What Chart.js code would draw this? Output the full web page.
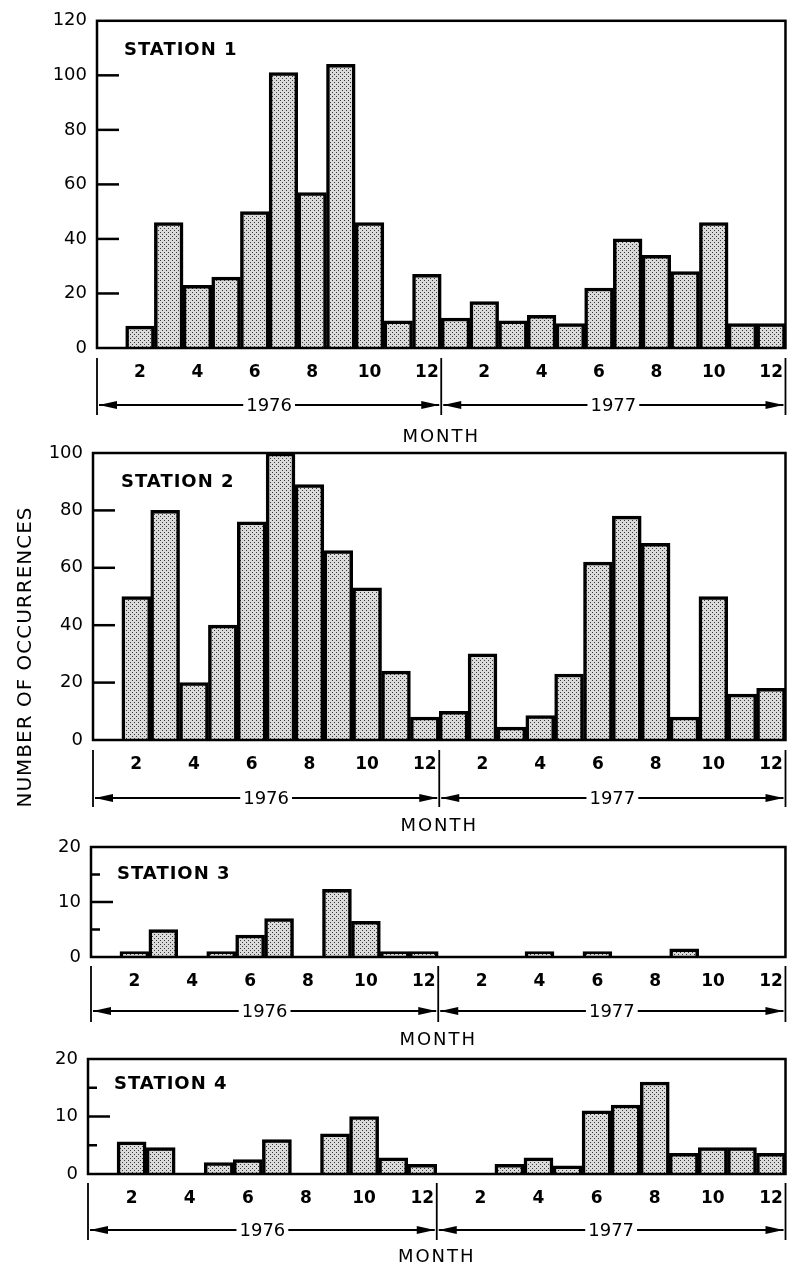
<!DOCTYPE html>
<html>
<head>
<meta charset="utf-8">
<script src="https://cdn.jsdelivr.net/npm/chart.js@4.4.1/dist/chart.umd.min.js"></script>
<style>
  body { margin: 0; background: #fff; }
  #wrap { position: relative; width: 797px; height: 1277px; }
  canvas { position: absolute; left: 0; top: 0; }
</style>
</head>
<body>
<div id="wrap">
  <canvas id="c1" width="797" height="1277"></canvas>
  <canvas id="c2" width="797" height="1277"></canvas>
  <canvas id="c3" width="797" height="1277"></canvas>
  <canvas id="c4" width="797" height="1277"></canvas>
</div>
<script>
// month numbers, Jan 1976 .. Dec 1977
var months = ['1','2','3','4','5','6','7','8','9','10','11','12',
              '1','2','3','4','5','6','7','8','9','10','11','12'];
var years = ['1976', '1977'];

// number of occurrences
var station1 = [0, 8, 46, 23, 26, 50, 101, 57, 104, 46, 10, 27,
                11, 17, 10, 12, 9, 22, 40, 34, 28, 46, 9, 9];
var station2 = [0, 50, 80, 20, 40, 76, 100, 89, 66, 53, 24, 8,
                10, 30, 4.5, 8.5, 23, 62, 78, 68.5, 8, 50, 16, 18];
var station3 = [0, 1, 5, 0, 1, 4, 7, 0, 12.3, 6.5, 1, 1,
                0, 0, 0, 1, 0, 1, 0, 0, 1.5, 0, 0, 0];
var station4 = [0, 5.6, 4.6, 0, 2, 2.5, 6, 0, 7, 10, 2.8, 1.7,
                0, 0, 1.7, 2.8, 1.4, 11, 12, 16, 3.6, 4.6, 4.6, 3.6];

var stationNames = ['STATION 1', 'STATION 2', 'STATION 3', 'STATION 4'];
var yMax = [120, 100, 20, 20];
var yStep = [20, 20, 10, 10];
var minorTicks = [[], [], [5, 15], [5, 15]];

var FONT = 'DejaVu Sans';

// stipple fill like the printed bars
function makeStipple() {
  var t = document.createElement('canvas');
  t.width = 4; t.height = 4;
  var g = t.getContext('2d');
  g.fillStyle = '#dadada';
  g.fillRect(0, 0, 4, 4);
  g.fillStyle = '#3a3a3a';
  g.fillRect(0, 0, 1, 1);
  g.fillRect(2, 2, 1, 1);
  return document.getElementById('c1').getContext('2d').createPattern(t, 'repeat');
}
var stipple = makeStipple();

function arrowHead(ctx, x, y, dir) {
  ctx.beginPath();
  ctx.moveTo(x, y);
  ctx.lineTo(x - dir * 18, y - 4);
  ctx.lineTo(x - dir * 18, y + 4);
  ctx.closePath();
  ctx.fill();
}

var framePlugin = {
  id: 'frame',
  afterDatasetsDraw: function(chart, args, opts) {
    var ctx = chart.ctx, a = chart.chartArea;
    var yS = chart.scales.y, xS = chart.scales.x;
    ctx.save();
    ctx.strokeStyle = '#000';
    ctx.fillStyle = '#000';
    ctx.lineWidth = 2.5;
    ctx.strokeRect(a.left, a.top, a.right - a.left, a.bottom - a.top);

    // inside tick marks
    ctx.lineWidth = 2.5;
    yS.ticks.forEach(function(t) {
      if (t.value <= yS.min || t.value >= yS.max) return;
      var py = yS.getPixelForValue(t.value);
      ctx.beginPath(); ctx.moveTo(a.left, py); ctx.lineTo(a.left + 22, py); ctx.stroke();
    });
    opts.minor.forEach(function(v) {
      var py = yS.getPixelForValue(v);
      ctx.beginPath(); ctx.moveTo(a.left, py); ctx.lineTo(a.left + 9, py); ctx.stroke();
    });

    // station name
    ctx.font = 'bold 18px "' + FONT + '"';
    ctx.letterSpacing = '1px';
    ctx.textBaseline = 'middle';
    ctx.textAlign = 'left';
    ctx.fillText(opts.station, opts.labelX, a.top + opts.labelDy);

    // year brackets
    var half = (xS.getPixelForValue(11) + xS.getPixelForValue(12)) / 2;
    var b0 = a.bottom + opts.brTop, b1 = a.bottom + opts.brBot, ay = a.bottom + opts.arrowDy;
    ctx.lineWidth = 1.8;
    [a.left, half, a.right].forEach(function(x) {
      ctx.beginPath(); ctx.moveTo(x, b0); ctx.lineTo(x, b1); ctx.stroke();
    });
    ctx.font = '18px "' + FONT + '"';
    ctx.letterSpacing = '0px';
    ctx.textAlign = 'center';
    [[a.left, half, years[0]], [half, a.right, years[1]]].forEach(function(s) {
      var l = s[0] + 2, r = s[1] - 2, c = (s[0] + s[1]) / 2;
      var w = ctx.measureText(s[2]).width / 2 + 3;
      ctx.lineWidth = 1.8;
      ctx.beginPath();
      ctx.moveTo(l, ay); ctx.lineTo(c - w, ay);
      ctx.moveTo(c + w, ay); ctx.lineTo(r, ay);
      ctx.stroke();
      arrowHead(ctx, l, ay, -1);
      arrowHead(ctx, r, ay, 1);
      ctx.fillText(s[2], c, ay + 1);
    });

    ctx.letterSpacing = '2px';
    ctx.fillText('MONTH', half, a.bottom + opts.monthDy);

    if (opts.yTitle) {
      ctx.save();
      ctx.translate(26, 657);
      ctx.rotate(-Math.PI / 2);
      ctx.font = '20px "' + FONT + '"';
      ctx.letterSpacing = '1px';
      ctx.fillText('NUMBER OF OCCURRENCES', 0, 0);
      ctx.restore();
    }
    ctx.restore();
  }
};

var boxes = [[97, 795, 13, 348], [93, 792, 453, 740], [91, 788, 847, 957], [88, 788, 1059, 1174]];
var extras = [
  { labelX: 124, labelDy: 30, brTop: 10, brBot: 67, arrowDy: 57, monthDy: 89 },
  { labelX: 121, labelDy: 29, brTop: 10, brBot: 67, arrowDy: 58, monthDy: 86 },
  { labelX: 117, labelDy: 27, brTop: 9, brBot: 65, arrowDy: 54, monthDy: 83 },
  { labelX: 114, labelDy: 25, brTop: 9, brBot: 66, arrowDy: 56, monthDy: 83 }
];
var series = [station1, station2, station3, station4];
var X_H = 40;

series.forEach(function(data, i) {
  var b = boxes[i], e = extras[i];
  new Chart(document.getElementById('c' + (i + 1)), {
    type: 'bar',
    data: {
      labels: months,
      datasets: [{
        data: data,
        backgroundColor: stipple,
        borderColor: '#000',
        borderWidth: 3.5,
        borderSkipped: 'bottom',
        barPercentage: 1,
        categoryPercentage: 1
      }]
    },
    options: {
      responsive: false,
      animation: false,
      devicePixelRatio: 1,
      layout: { padding: { left: 0, top: b[2], right: 797 - b[1], bottom: 1277 - b[3] - X_H } },
      plugins: {
        legend: { display: false },
        tooltip: { enabled: false },
        frame: {
          station: stationNames[i], minor: minorTicks[i], yTitle: i === 1,
          labelX: e.labelX, labelDy: e.labelDy, brTop: e.brTop, brBot: e.brBot,
          arrowDy: e.arrowDy, monthDy: e.monthDy
        }
      },
      scales: {
        x: {
          grid: { display: false, drawTicks: false },
          border: { display: false },
          afterFit: function(s) { s.height = X_H; },
          ticks: {
            autoSkip: false, maxRotation: 0, padding: 14, color: '#000',
            font: { family: FONT, size: 17, weight: 'bold' },
            callback: function(v) { var m = months[v]; return (+m % 2 === 0) ? m : ''; }
          }
        },
        y: {
          min: 0, max: yMax[i],
          grid: { display: false, drawTicks: false },
          border: { display: false },
          afterFit: function(s) { s.width = b[0]; },
          ticks: {
            stepSize: yStep[i], padding: 10, color: '#000',
            font: { family: FONT, size: 18 }
          }
        }
      }
    },
    plugins: [framePlugin]
  });
});
</script>
</body>
</html>
